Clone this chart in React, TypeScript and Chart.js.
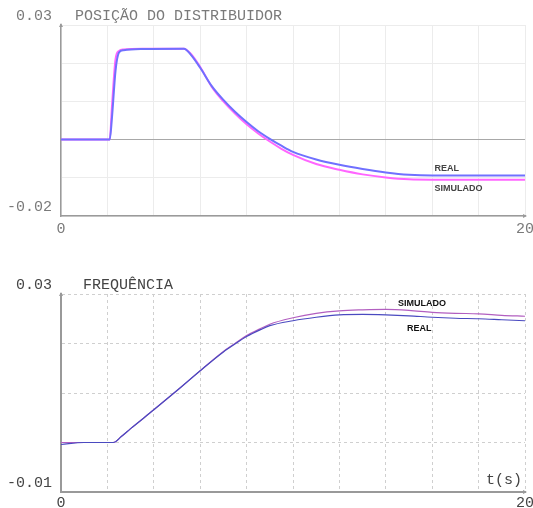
import React, { useEffect, useRef } from "react";
import { Chart, registerables } from "chart.js";

Chart.register(...registerables);

// ---- data ----
const topTime = [0, 2.1, 2.2, 2.35, 2.5, 2.7, 3.5, 5.3, 5.6, 6.0, 6.5, 7.0, 7.5, 8.0, 8.5, 9.0, 9.5, 10, 11, 12, 13, 14, 15, 16, 20];
const topReal = [0, 0, 0.006, 0.018, 0.0228, 0.0234, 0.0237, 0.0238, 0.0222, 0.0188, 0.014, 0.0104, 0.0073, 0.0046, 0.0022, 0.0002, -0.0016, -0.0032, -0.0052, -0.0066, -0.0077, -0.0086, -0.0092, -0.0094, -0.0094];
const topSim = [0, 0, 0.009, 0.021, 0.0232, 0.0236, 0.0238, 0.0238, 0.0224, 0.019, 0.0138, 0.01, 0.0068, 0.004, 0.0016, -0.0005, -0.0024, -0.004, -0.0064, -0.0079, -0.0091, -0.0099, -0.0104, -0.0105, -0.0105];

const botTime = [0, 1, 2.25, 2.6, 3, 4, 5, 6, 7, 7.5, 8, 8.6, 9, 10, 11, 12, 13, 14, 15, 16, 17, 18, 19, 20];
const botReal = [-0.0004, 0, 0, 0.0012, 0.0028, 0.0066, 0.0105, 0.0145, 0.0183, 0.0199, 0.0214, 0.0228, 0.0236, 0.0246, 0.0253, 0.0258, 0.0259, 0.0258, 0.0256, 0.0253, 0.0251, 0.025, 0.0248, 0.0246];
const botSim = [0, 0, 0, 0.0012, 0.0028, 0.0066, 0.0105, 0.0145, 0.0184, 0.02, 0.0216, 0.023, 0.0239, 0.0252, 0.0261, 0.0266, 0.0268, 0.0269, 0.0267, 0.0263, 0.0261, 0.026, 0.0257, 0.0255];

const xTickValues = [0, 2, 4, 6, 8, 10, 12, 14, 16, 18, 20];
const topYTickValues = [-0.02, -0.01, 0, 0.01, 0.02, 0.03];
const botYTickValues = [-0.01, 0, 0.01, 0.02, 0.03];

const topTitle = "POSIÇÃO DO DISTRIBUIDOR";
const botTitle = "FREQUÊNCIA";
const xUnitLabel = "t(s)";
const seriesNames = ["REAL", "SIMULADO"];

const W = 533;
const H = 254;
const MONO = "'Liberation Mono', 'DejaVu Sans Mono', monospace";
const SANS = "'Liberation Sans', Arial, sans-serif";

type Params = {
  time: number[];
  real: number[];
  sim: number[];
  yTicks: number[];
  title: string;
  unit?: string;
  realColor: string;
  simColor: string;
  lineWidth: number;
  textColor: string;
  gridColor: string;
  zeroColor: string;
  axisColor: string;
  axisWidth: number;
  dash: number[];
  padTop: number;
  xHeight: number;
  xPad: number;
  titleDx: number;
  labels: { text: string; t: number; v: number }[];
  labelColor: string;
};

const near = (a: number, b: number) => Math.abs(a - b) < 1e-9;

function makeConfig(p: Params): any {
  const yMin = p.yTicks[0];
  const yMax = p.yTicks[p.yTicks.length - 1];
  const overlay = {
    id: "overlay",
    afterDraw(chart: any) {
      const { ctx, chartArea } = chart;
      const xs = chart.scales.x;
      const ys = chart.scales.y;
      ctx.save();
      // title
      ctx.fillStyle = p.textColor;
      ctx.font = `15px ${MONO}`;
      ctx.textBaseline = "middle";
      ctx.textAlign = "left";
      ctx.fillText(p.title, chartArea.left + p.titleDx, chartArea.top - 9);
      if (p.unit) {
        ctx.textAlign = "right";
        ctx.fillText(p.unit, chartArea.right - 3, chartArea.bottom - 12);
      }
      // series labels
      ctx.fillStyle = p.labelColor;
      ctx.font = `bold 9px ${SANS}`;
      ctx.textAlign = "left";
      for (const l of p.labels) {
        ctx.fillText(l.text, xs.getPixelForValue(l.t), ys.getPixelForValue(l.v));
      }
      // arrows
      ctx.fillStyle = p.axisColor;
      const L = chartArea.left, T = chartArea.top, R = chartArea.right, B = chartArea.bottom;
      ctx.beginPath();
      ctx.moveTo(L, T - 2);
      ctx.lineTo(L - 2, T + 2);
      ctx.lineTo(L + 2, T + 2);
      ctx.closePath();
      ctx.fill();
      ctx.beginPath();
      ctx.moveTo(R + 2, B);
      ctx.lineTo(R - 2, B - 2);
      ctx.lineTo(R - 2, B + 2);
      ctx.closePath();
      ctx.fill();
      ctx.restore();
    },
  };
  return {
    type: "line",
    data: {
      datasets: [
        {
          label: seriesNames[0],
          data: p.time.map((t, i) => ({ x: t, y: p.real[i] })),
          borderColor: p.realColor,
          borderWidth: p.lineWidth,
          pointRadius: 0,
          cubicInterpolationMode: "monotone",
          fill: false,
        },
        {
          label: seriesNames[1],
          data: p.time.map((t, i) => ({ x: t, y: p.sim[i] })),
          borderColor: p.simColor,
          borderWidth: p.lineWidth,
          pointRadius: 0,
          cubicInterpolationMode: "monotone",
          fill: false,
        },
      ],
    },
    options: {
      animation: false,
      responsive: false,
      layout: { padding: { top: p.padTop, right: 8, left: 0, bottom: 0 } },
      plugins: { legend: { display: false }, tooltip: { enabled: false }, title: { display: false } },
      scales: {
        x: {
          type: "linear",
          min: 0,
          max: 20,
          afterBuildTicks: (s: any) => {
            s.ticks = xTickValues.map((v) => ({ value: v }));
          },
          afterFit: (s: any) => {
            s.height = p.xHeight;
            s.paddingLeft = 0;
            s.paddingRight = 0;
          },
          ticks: {
            autoSkip: false,
            maxRotation: 0,
            padding: p.xPad,
            color: p.textColor,
            font: { family: MONO, size: 15 },
            callback: (v: number) => (near(v, 0) || near(v, 20) ? String(v) : ""),
          },
          grid: {
            color: p.gridColor,
            drawTicks: false,
            borderDash: p.dash,
          },
          border: { color: p.axisColor, width: p.axisWidth, dash: p.dash },
        },
        y: {
          type: "linear",
          min: yMin,
          max: yMax,
          afterBuildTicks: (s: any) => {
            s.ticks = p.yTicks.map((v) => ({ value: v }));
          },
          afterFit: (s: any) => {
            s.width = 61;
            s.paddingTop = 0;
            s.paddingBottom = 0;
          },
          ticks: {
            autoSkip: false,
            padding: 9,
            labelOffset: -9,
            color: p.textColor,
            font: { family: MONO, size: 15 },
            callback: (v: number) => (near(v, yMin) || near(v, yMax) ? v.toFixed(2) : ""),
          },
          grid: {
            color: (c: any) => (c.tick && near(c.tick.value, 0) ? p.zeroColor : p.gridColor),
            drawTicks: false,
            borderDash: p.dash,
          },
          border: { color: p.axisColor, width: p.axisWidth, dash: p.dash },
        },
      },
    },
    plugins: [overlay],
  };
}

const topParams: Params = {
  time: topTime,
  real: topReal,
  sim: topSim,
  yTicks: topYTickValues,
  title: topTitle,
  realColor: "#7070ff",
  simColor: "#ff66ff",
  lineWidth: 2,
  textColor: "#7a7a7a",
  gridColor: "#ececec",
  zeroColor: "#a8a8a8",
  axisColor: "#9a9a9a",
  axisWidth: 1.5,
  dash: [],
  padTop: 25,
  xHeight: 38,
  xPad: 4,
  titleDx: 14,
  labels: [
    { text: seriesNames[0], t: 16.1, v: -0.0075 },
    { text: seriesNames[1], t: 16.1, v: -0.0128 },
  ],
  labelColor: "#444",
};

const botParams: Params = {
  time: botTime,
  real: botReal,
  sim: botSim,
  yTicks: botYTickValues,
  title: botTitle,
  unit: xUnitLabel,
  realColor: "#4a4ac0",
  simColor: "#b25fc0",
  lineWidth: 1.2,
  textColor: "#444",
  gridColor: "#cfcfcf",
  zeroColor: "#cfcfcf",
  axisColor: "#999",
  axisWidth: 2,
  dash: [3, 3],
  padTop: 40,
  xHeight: 16,
  xPad: 2,
  titleDx: 22,
  labels: [
    { text: seriesNames[1], t: 14.53, v: 0.0281 },
    { text: seriesNames[0], t: 14.91, v: 0.0231 },
  ],
  labelColor: "#111",
};

function ChartCanvas({ params, top }: { params: Params; top: number }) {
  const ref = useRef<HTMLCanvasElement | null>(null);
  useEffect(() => {
    if (!ref.current) return;
    const chart = new Chart(ref.current, makeConfig(params));
    return () => chart.destroy();
  }, [params]);
  return (
    <canvas
      ref={ref}
      width={W}
      height={H}
      style={{ position: "absolute", left: 0, top, width: W, height: H, display: "block" }}
    />
  );
}

export default function App() {
  return (
    <div style={{ position: "absolute", left: 0, top: 0, width: W, height: 508, background: "#fff", overflow: "hidden" }}>
      <ChartCanvas params={topParams} top={0} />
      <ChartCanvas params={botParams} top={254} />
    </div>
  );
}
